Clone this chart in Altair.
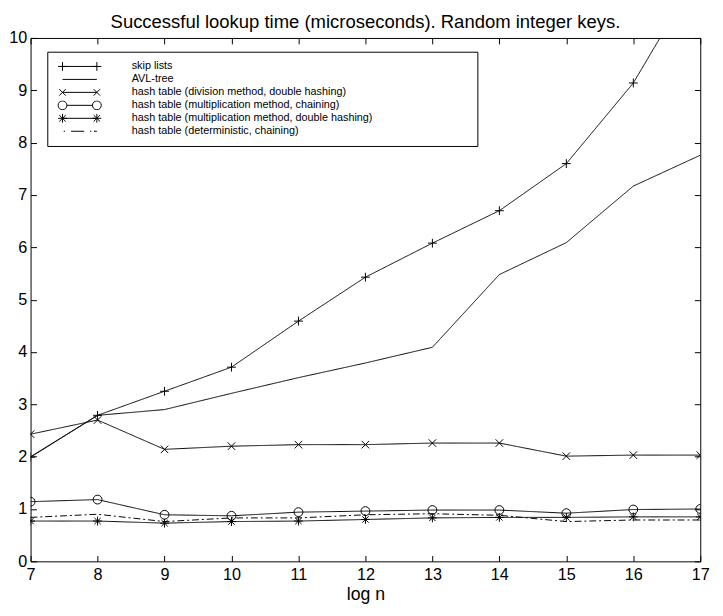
import altair as alt
import pandas as pd

FONT = "Liberation Sans"

log_n = [7, 8, 9, 10, 11, 12, 13, 14, 15, 16, 17]
series_names = [
    "skip lists",
    "AVL-tree",
    "hash table (division method, double hashing)",
    "hash table (multiplication method, chaining)",
    "hash table (multiplication method, double hashing)",
    "hash table (deterministic, chaining)",
]
skip_lists = [1.99, 2.79, 3.25, 3.71, 4.59, 5.43, 6.08, 6.70, 7.60, 9.14, 11.3]
avl_tree = [2.00, 2.79, 2.90, 3.21, 3.51, 3.79, 4.09, 5.48, 6.09, 7.17, 7.76]
div_double = [2.43, 2.70, 2.14, 2.20, 2.23, 2.23, 2.26, 2.26, 2.01, 2.03, 2.03]
mult_chain = [1.14, 1.18, 0.89, 0.87, 0.94, 0.96, 0.98, 0.98, 0.92, 0.99, 1.00]
mult_double = [0.77, 0.77, 0.73, 0.76, 0.77, 0.80, 0.83, 0.84, 0.84, 0.85, 0.85]
deterministic = [0.84, 0.90, 0.76, 0.83, 0.83, 0.89, 0.91, 0.88, 0.76, 0.79, 0.79]

all_values = [skip_lists, avl_tree, div_double, mult_chain, mult_double, deterministic]
rows = []
for name, vals in zip(series_names, all_values):
    for x, v in zip(log_n, vals):
        rows.append({"series": name, "logn": x, "value": v})
df = pd.DataFrame(rows)

W, H = 682, 533
y_ticks = list(range(0, 11))

# line dash per series
dashes = [[1, 0], [1, 0], [1, 0], [1, 0], [1, 0], [7, 3, 2, 3]]

# plot markers (custom stroke paths)
marker_series = [series_names[0], series_names[2], series_names[3], series_names[4]]
PLUS = "M-1,0L1,0M0,-1L0,1"
XM = "M-0.85,-0.85L0.85,0.85M-0.85,0.85L0.85,-0.85"
STAR = "M-1,0L1,0M0,-1L0,1M-0.72,-0.72L0.72,0.72M-0.72,0.72L0.72,-0.72"
marker_paths = [PLUS, XM, "circle", STAR]

# legend glyphs: line with a marker at each end
r = 0.257
d = 0.19
def plus_at(c):
    return f"M{c-r},0L{c+r},0M{c},{-r}L{c},{r}"
def x_at(c):
    return f"M{c-d},{-d}L{c+d},{d}M{c-d},{d}L{c+d},{-d}"
def circ_at(c):
    return f"M{c+r},0A{r},{r},0,1,1,{c-r},0A{r},{r},0,1,1,{c+r},0"
LINE = "M-1,0L1,0"
glyphs = [
    LINE + plus_at(-1) + plus_at(1),
    LINE,
    LINE + x_at(-1) + x_at(1),
    "M-0.743,0L0.743,0" + circ_at(-1) + circ_at(1),
    LINE + plus_at(-1) + plus_at(1) + x_at(-1) + x_at(1),
    "M-0.93,0L-0.85,0M-0.5,0L0.26,0M0.6,0L0.68,0M0.83,0L1,0",
]

xscale = alt.Scale(domain=[7, 17], nice=False, zero=False)
yscale = alt.Scale(domain=[0, 10], nice=False, zero=False)

pad_label = series_names[4]
blank = "\u2800" * 12
label_expr = f"datum.label == '{pad_label}' ? datum.label + '{blank}' : datum.label"

lines = alt.Chart(df).mark_line(color="black", strokeWidth=1, clip=True).encode(
    x=alt.X("logn:Q", scale=xscale,
            axis=alt.Axis(orient="bottom", values=log_n, title="log n", ticks=False,
                          domain=False, grid=False, labelFlush=False, labelPadding=5,
                          titlePadding=3, titleFontSize=18)),
    y=alt.Y("value:Q", scale=yscale,
            axis=alt.Axis(orient="left", values=y_ticks, title=None, ticks=False,
                          domain=False, grid=False, labelPadding=4, labelFlush=False)),
    detail="series:N",
    strokeDash=alt.StrokeDash("series:N", scale=alt.Scale(domain=series_names, range=dashes),
                              legend=None),
)

points = alt.Chart(df).transform_filter(
    alt.FieldOneOfPredicate(field="series", oneOf=marker_series)
).mark_point(filled=False, color="black", size=81, strokeWidth=1, clip=True, opacity=1).encode(
    x=alt.X("logn:Q", scale=xscale,
            axis=alt.Axis(orient="top", offset=-H, values=log_n, labels=False, ticks=True,
                          tickSize=6, domain=False, grid=False, title=None)),
    y=alt.Y("value:Q", scale=yscale,
            axis=alt.Axis(orient="right", offset=-W, values=y_ticks, labels=False, ticks=True,
                          tickSize=6, domain=False, grid=False, title=None)),
    shape=alt.Shape("series:N", scale=alt.Scale(domain=marker_series, range=marker_paths),
                    legend=None),
)

legend_layer = alt.Chart(df).mark_point(filled=False, color="black", size=1225, strokeWidth=1,
                                        opacity=0, clip=True).encode(
    x=alt.X("logn:Q", scale=xscale,
            axis=alt.Axis(orient="bottom", offset=-H, values=log_n, labels=False, ticks=True,
                          tickSize=6, domain=False, grid=False, title=None)),
    y=alt.Y("value:Q", scale=yscale,
            axis=alt.Axis(orient="left", offset=-W, values=y_ticks, labels=False, ticks=True,
                          tickSize=6, domain=False, grid=False, title=None)),
    shape=alt.Shape("series:N", scale=alt.Scale(domain=series_names, range=glyphs),
                    legend=alt.Legend(title=None, orient="none", legendX=17, legendY=14,
                                      padding=10, strokeColor="black", fillColor="white",
                                      symbolSize=1225, symbolStrokeWidth=1,
                                      symbolStrokeColor="black", symbolFillColor="transparent",
                                      symbolOpacity=1, symbolOffset=5, labelOffset=35,
                                      labelFont=FONT, labelFontSize=11, labelColor="black",
                                      labelLimit=800, clipHeight=10, rowPadding=2.2,
                                      labelExpr=label_expr)),
)

chart = alt.layer(lines, points, legend_layer).resolve_axis(
    x="independent", y="independent"
).resolve_scale(shape="independent").properties(
    width=W, height=H,
    padding={"left": 0, "top": 0, "right": 5, "bottom": 0},
    background="white",
    title=alt.TitleParams("Successful lookup time (microseconds). Random integer keys.",
                          font=FONT, fontSize=18.8, fontWeight="normal", color="black",
                          anchor="middle", offset=-2),
).configure_view(stroke="black", strokeWidth=1).configure_axis(
    labelFont=FONT, titleFont=FONT, labelFontSize=16.5, titleFontSize=18,
    titleFontWeight="normal", labelColor="black", titleColor="black", tickColor="black",
    tickWidth=1,
)

chart.save("out.html", embed_options={"renderer": "svg", "actions": False})
